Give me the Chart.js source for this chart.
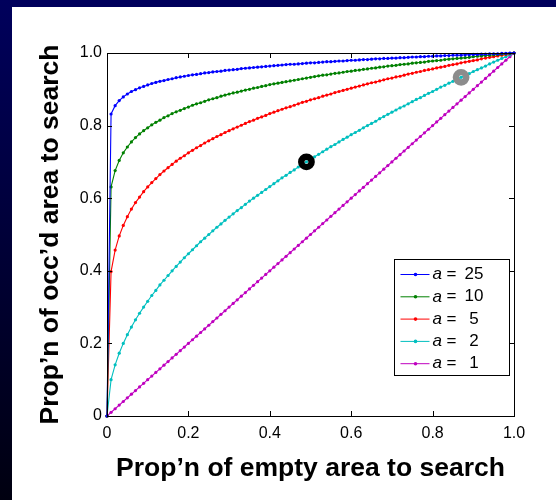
<!DOCTYPE html>
<html>
<head>
<meta charset="utf-8">
<script src="https://cdn.jsdelivr.net/npm/chart.js@4.4.0/dist/chart.umd.min.js"></script>
<style>
  html, body { margin: 0; padding: 0; }
  body { width: 556px; height: 500px; overflow: hidden; position: relative;
         background: linear-gradient(#00005c, #000010); }
  #panel { position: absolute; left: 12px; top: 7px; width: 544px; height: 493px; background: #fff; }
</style>
</head>
<body>
<div id="panel"><canvas id="roc" width="544" height="493"></canvas></div>
<script>
// proportion of empty area searched (x)
const propEmpty = [0,0.01,0.02,0.03,0.04,0.05,0.06,0.07,0.08,0.09,0.1,
  0.11,0.12,0.13,0.14,0.15,0.16,0.17,0.18,0.19,0.2,
  0.21,0.22,0.23,0.24,0.25,0.26,0.27,0.28,0.29,0.3,
  0.31,0.32,0.33,0.34,0.35,0.36,0.37,0.38,0.39,0.4,
  0.41,0.42,0.43,0.44,0.45,0.46,0.47,0.48,0.49,0.5,
  0.51,0.52,0.53,0.54,0.55,0.56,0.57,0.58,0.59,0.6,
  0.61,0.62,0.63,0.64,0.65,0.66,0.67,0.68,0.69,0.7,
  0.71,0.72,0.73,0.74,0.75,0.76,0.77,0.78,0.79,0.8,
  0.81,0.82,0.83,0.84,0.85,0.86,0.87,0.88,0.89,0.9,
  0.91,0.92,0.93,0.94,0.95,0.96,0.97,0.98,0.99,1];

// proportion of occupied area searched (y), one list per a
const occA25 = [0,0.832,0.855,0.869,0.879,0.887,0.894,0.899,0.904,0.908,0.912,
  0.916,0.919,0.922,0.924,0.927,0.929,0.932,0.934,0.936,0.938,
  0.940,0.941,0.943,0.945,0.946,0.948,0.949,0.950,0.952,0.953,
  0.954,0.955,0.957,0.958,0.959,0.960,0.961,0.962,0.963,0.964,
  0.965,0.966,0.967,0.968,0.969,0.969,0.970,0.971,0.972,0.973,
  0.973,0.974,0.975,0.976,0.976,0.977,0.978,0.978,0.979,0.980,
  0.980,0.981,0.982,0.982,0.983,0.984,0.984,0.985,0.985,0.986,
  0.986,0.987,0.987,0.988,0.989,0.989,0.990,0.990,0.991,0.991,
  0.992,0.992,0.993,0.993,0.994,0.994,0.994,0.995,0.995,0.996,
  0.996,0.997,0.997,0.998,0.998,0.998,0.999,0.999,1.000,1];
const occA10 = [0,0.631,0.676,0.704,0.725,0.741,0.755,0.767,0.777,0.786,0.794,
  0.802,0.809,0.815,0.822,0.827,0.833,0.838,0.842,0.847,0.851,
  0.856,0.860,0.863,0.867,0.871,0.874,0.877,0.881,0.884,0.887,
  0.890,0.892,0.895,0.898,0.900,0.903,0.905,0.908,0.910,0.913,
  0.915,0.917,0.919,0.921,0.923,0.925,0.927,0.929,0.931,0.933,
  0.935,0.937,0.939,0.940,0.942,0.944,0.945,0.947,0.949,0.950,
  0.952,0.953,0.955,0.956,0.958,0.959,0.961,0.962,0.964,0.965,
  0.966,0.968,0.969,0.970,0.972,0.973,0.974,0.975,0.977,0.978,
  0.979,0.980,0.982,0.983,0.984,0.985,0.986,0.987,0.988,0.990,
  0.991,0.992,0.993,0.994,0.995,0.996,0.997,0.998,0.999,1];
const occA5 = [0,0.398,0.457,0.496,0.525,0.549,0.570,0.588,0.603,0.618,0.631,
  0.643,0.654,0.665,0.675,0.684,0.693,0.702,0.710,0.717,0.725,
  0.732,0.739,0.745,0.752,0.758,0.764,0.770,0.775,0.781,0.786,
  0.791,0.796,0.801,0.806,0.811,0.815,0.820,0.824,0.828,0.833,
  0.837,0.841,0.845,0.849,0.852,0.856,0.860,0.864,0.867,0.871,
  0.874,0.877,0.881,0.884,0.887,0.891,0.894,0.897,0.900,0.903,
  0.906,0.909,0.912,0.915,0.918,0.920,0.923,0.926,0.929,0.931,
  0.934,0.936,0.939,0.942,0.944,0.947,0.949,0.952,0.954,0.956,
  0.959,0.961,0.963,0.966,0.968,0.970,0.973,0.975,0.977,0.979,
  0.981,0.984,0.986,0.988,0.990,0.992,0.994,0.996,0.998,1];
const occA2 = [0,0.100,0.141,0.173,0.200,0.224,0.245,0.265,0.283,0.300,0.316,
  0.332,0.346,0.361,0.374,0.387,0.400,0.412,0.424,0.436,0.447,
  0.458,0.469,0.480,0.490,0.500,0.510,0.520,0.529,0.539,0.548,
  0.557,0.566,0.574,0.583,0.592,0.600,0.608,0.616,0.624,0.632,
  0.640,0.648,0.656,0.663,0.671,0.678,0.686,0.693,0.700,0.707,
  0.714,0.721,0.728,0.735,0.742,0.748,0.755,0.762,0.768,0.775,
  0.781,0.787,0.794,0.800,0.806,0.812,0.819,0.825,0.831,0.837,
  0.843,0.849,0.854,0.860,0.866,0.872,0.877,0.883,0.889,0.894,
  0.900,0.906,0.911,0.917,0.922,0.927,0.933,0.938,0.943,0.949,
  0.954,0.959,0.964,0.970,0.975,0.980,0.985,0.990,0.995,1];
const occA1 = [0,0.01,0.02,0.03,0.04,0.05,0.06,0.07,0.08,0.09,0.1,
  0.11,0.12,0.13,0.14,0.15,0.16,0.17,0.18,0.19,0.2,
  0.21,0.22,0.23,0.24,0.25,0.26,0.27,0.28,0.29,0.3,
  0.31,0.32,0.33,0.34,0.35,0.36,0.37,0.38,0.39,0.4,
  0.41,0.42,0.43,0.44,0.45,0.46,0.47,0.48,0.49,0.5,
  0.51,0.52,0.53,0.54,0.55,0.56,0.57,0.58,0.59,0.6,
  0.61,0.62,0.63,0.64,0.65,0.66,0.67,0.68,0.69,0.7,
  0.71,0.72,0.73,0.74,0.75,0.76,0.77,0.78,0.79,0.8,
  0.81,0.82,0.83,0.84,0.85,0.86,0.87,0.88,0.89,0.9,
  0.91,0.92,0.93,0.94,0.95,0.96,0.97,0.98,0.99,1];

const aValues = [25, 10, 5, 2, 1];
const curveColors = ['#0000ff', '#008000', '#ff0000', '#00bfbf', '#bf00bf'];

// highlighted operating points
const ringX = [0.49, 0.87];
const ringY = [0.70, 0.933];
const ringColors = ['#000000', '#8c8c8c'];

const tickValues = [0, 0.2, 0.4, 0.6, 0.8, 1.0];
const xTickLabels = ['0', '0.2', '0.4', '0.6', '0.8', '1.0'];
const yTickLabels = ['0', '0.2', '0.4', '0.6', '0.8', '1.0'];

const FONT = '"Liberation Sans", Arial, Helvetica, sans-serif';
const curves = [occA25, occA10, occA5, occA2, occA1];

const datasets = curves.map((ys, i) => ({
  label: 'a = ' + aValues[i],
  data: ys.map((y, j) => ({ x: propEmpty[j], y: y })),
  showLine: true,
  borderColor: curveColors[i],
  backgroundColor: curveColors[i],
  borderWidth: 1.1,
  pointRadius: 1.6,
  pointBorderWidth: 0,
  pointBackgroundColor: curveColors[i],
  tension: 0,
  clip: 6
}));
ringX.forEach((x, i) => {
  datasets.push({
    label: 'ring',
    data: [{ x: x, y: ringY[i] }],
    showLine: false,
    pointRadius: 5.2,
    pointBorderWidth: 6.4,
    pointBorderColor: ringColors[i],
    pointBackgroundColor: 'rgba(0,0,0,0)',
    order: -1,
    clip: 10
  });
});

// box, inward ticks and legend drawn the matlab way
const framePlugin = {
  id: 'frame',
  afterDraw(chart) {
    const ctx = chart.ctx;
    const ca = chart.chartArea;
    const xs = chart.scales.x, ys = chart.scales.y;
    ctx.save();
    ctx.strokeStyle = '#000';
    ctx.lineWidth = 1;
    ctx.strokeRect(Math.round(ca.left) + 0.5, Math.round(ca.top) + 0.5,
      Math.round(ca.right - ca.left), Math.round(ca.bottom - ca.top));
    ctx.beginPath();
    tickValues.forEach(v => {
      const px = Math.round(xs.getPixelForValue(v)) + 0.5;
      ctx.moveTo(px, ca.bottom); ctx.lineTo(px, ca.bottom - 5);
      ctx.moveTo(px, ca.top); ctx.lineTo(px, ca.top + 5);
      const py = Math.round(ys.getPixelForValue(v)) + 0.5;
      ctx.moveTo(ca.left, py); ctx.lineTo(ca.left + 5, py);
      ctx.moveTo(ca.right, py); ctx.lineTo(ca.right - 5, py);
    });
    ctx.stroke();

    // legend
    const w = 115, h = 116;
    const bx = Math.round(ca.right - 5 - w) + 0.5;
    const by = Math.round(ca.bottom - 41 - h) + 0.5;
    ctx.fillStyle = '#fff';
    ctx.fillRect(bx, by, w, h);
    ctx.strokeRect(bx, by, w, h);
    ctx.textBaseline = 'middle';
    aValues.forEach((a, i) => {
      const y = by + 15 + i * 22.3;
      ctx.strokeStyle = curveColors[i];
      ctx.beginPath();
      ctx.moveTo(bx + 6, y); ctx.lineTo(bx + 35, y);
      ctx.stroke();
      ctx.fillStyle = curveColors[i];
      ctx.beginPath();
      ctx.arc(bx + 21, y, 1.8, 0, Math.PI * 2);
      ctx.fill();
      ctx.fillStyle = '#000';
      ctx.font = 'italic 17px ' + FONT;
      ctx.fillText('a', bx + 38, y);
      ctx.font = '17px ' + FONT;
      ctx.fillText('=', bx + 52, y);
      ctx.fillText(a < 10 ? ' ' + a : '' + a, bx + 70, y);
    });
    ctx.restore();
  }
};

new Chart(document.getElementById('roc'), {
  type: 'scatter',
  data: { datasets: datasets },
  plugins: [framePlugin],
  options: {
    responsive: false,
    animation: false,
    events: [],
    layout: { padding: { top: 46, right: 42, left: 0, bottom: 0 } },
    plugins: { legend: { display: false }, tooltip: { enabled: false } },
    scales: {
      x: {
        type: 'linear', min: 0, max: 1,
        afterFit: s => { s.height = 84; },
        afterBuildTicks: s => { s.ticks = tickValues.map(v => ({ value: v })); },
        ticks: {
          callback: (v, i) => xTickLabels[i],
          color: '#000', font: { family: FONT, size: 16 }, padding: 8, maxRotation: 0
        },
        grid: { display: false, drawTicks: false },
        border: { display: false },
        title: {
          display: true, text: 'Prop’n of empty area to search', color: '#000',
          font: { family: FONT, size: 26.5, weight: 'bold' }, padding: { top: 0, bottom: 15 }
        }
      },
      y: {
        type: 'linear', min: 0, max: 1,
        afterFit: s => { s.width = 95; },
        afterBuildTicks: s => { s.ticks = tickValues.map(v => ({ value: v })); },
        ticks: {
          callback: (v, i) => yTickLabels[i],
          color: '#000', font: { family: FONT, size: 16 }, padding: 5
        },
        grid: { display: false, drawTicks: false },
        border: { display: false },
        title: {
          display: true, text: 'Prop’n of occ’d area to search', color: '#000',
          font: { family: FONT, size: 26.5, weight: 'bold' }, padding: { top: 23, bottom: 0 }
        }
      }
    }
  }
});
</script>
</body>
</html>
